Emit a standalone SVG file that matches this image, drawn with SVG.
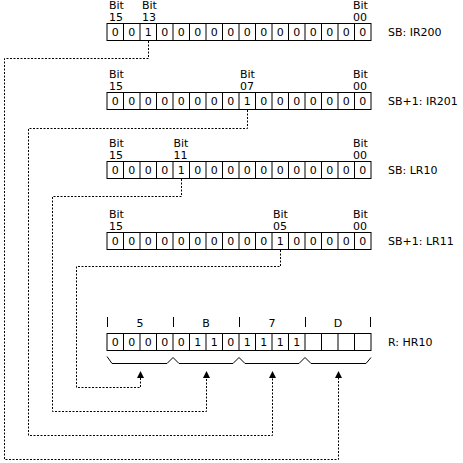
<svg xmlns="http://www.w3.org/2000/svg" width="463" height="463" viewBox="0 0 463 463">
<defs>
<style>
text{font-family:"DejaVu Sans","Liberation Sans",sans-serif;font-size:11px;fill:#000}
.c{text-anchor:middle}
.box{fill:#fff;stroke:#000;stroke-width:1}
.div{fill:none;stroke:#000;stroke-width:1}
.conn{fill:none;stroke:#000;stroke-width:1;stroke-dasharray:2 1.5}
.line{fill:none;stroke:#000;stroke-width:1}
</style>
<marker id="arr" markerUnits="userSpaceOnUse" markerWidth="8" markerHeight="8" refX="0" refY="3.5" orient="auto">
<path d="M0,0 L7,3.5 L0,7 z" fill="#000"/>
</marker>
<path id="dividers" d="M123.5 0v17M140 0v17M156.5 0v17M173 0v17M189.5 0v17M206 0v17M222.5 0v17M239 0v17M255.5 0v17M272 0v17M288.5 0v17M305 0v17M321.5 0v17M338 0v17M354.5 0v17"/>
</defs>
<rect width="463" height="463" fill="#fff"/>

<g id="reg-ir200">
<rect class="box" x="107" y="23.5" width="264" height="17"/>
<use href="#dividers" class="div" y="23.5"/>
<text class="c" x="115.25 131.75 148.25 164.75 181.25 197.75 214.25 230.75 247.25 263.75 280.25 296.75 313.25 329.75 346.25 362.75" y="36">0010000000000000</text>
<text x="109" y="9">Bit</text><text x="109" y="20.5">15</text>
<text x="142" y="9">Bit</text><text x="142" y="20.5">13</text>
<text x="353" y="9">Bit</text><text x="353" y="20.5">00</text>
<text x="388" y="36">SB: IR200</text>
</g>

<g id="reg-ir201">
<rect class="box" x="107" y="92.5" width="264" height="17"/>
<use href="#dividers" class="div" y="92.5"/>
<text class="c" x="115.25 131.75 148.25 164.75 181.25 197.75 214.25 230.75 247.25 263.75 280.25 296.75 313.25 329.75 346.25 362.75" y="105">0000000010000000</text>
<text x="109" y="78">Bit</text><text x="109" y="89.5">15</text>
<text x="240" y="78">Bit</text><text x="240" y="89.5">07</text>
<text x="353" y="78">Bit</text><text x="353" y="89.5">00</text>
<text x="388" y="105">SB+1: IR201</text>
</g>

<g id="reg-lr10">
<rect class="box" x="107" y="161.5" width="264" height="17"/>
<use href="#dividers" class="div" y="161.5"/>
<text class="c" x="115.25 131.75 148.25 164.75 181.25 197.75 214.25 230.75 247.25 263.75 280.25 296.75 313.25 329.75 346.25 362.75" y="174">0000100000000000</text>
<text x="109" y="147">Bit</text><text x="109" y="158.5">15</text>
<text x="173.5" y="147">Bit</text><text x="173.5" y="158.5">11</text>
<text x="353" y="147">Bit</text><text x="353" y="158.5">00</text>
<text x="388" y="174">SB: LR10</text>
</g>

<g id="reg-lr11">
<rect class="box" x="107" y="232.5" width="264" height="17"/>
<use href="#dividers" class="div" y="232.5"/>
<text class="c" x="115.25 131.75 148.25 164.75 181.25 197.75 214.25 230.75 247.25 263.75 280.25 296.75 313.25 329.75 346.25 362.75" y="245">0000000000100000</text>
<text x="109" y="218">Bit</text><text x="109" y="229.5">15</text>
<text x="273" y="218">Bit</text><text x="273" y="229.5">05</text>
<text x="353" y="218">Bit</text><text x="353" y="229.5">00</text>
<text x="388" y="245">SB+1: LR11</text>
</g>

<g id="reg-hr10">
<path class="line" d="M107.5 317v10M173.5 317v10M239.5 317v10M305.5 317v10M370.5 317v10"/>
<text class="c" x="140" y="327">5</text>
<text class="c" x="206" y="327">B</text>
<text class="c" x="272" y="327">7</text>
<text class="c" x="338" y="327">D</text>
<rect class="box" x="107" y="333.5" width="264" height="17"/>
<use href="#dividers" class="div" y="333.5"/>
<text class="c" x="115.25 131.75 148.25 164.75 181.25 197.75 214.25 230.75 247.25 263.75 280.25 296.75" y="346">000001101111</text>
<polyline class="line" points="107,356.5 112,363.5 167,363.5 173,357.5 179,363.5 233,363.5 239,357.5 245,363.5 299,363.5 305,357.5 311,363.5 366,363.5 371,357.5"/>
<text x="388" y="346">R: HR10</text>
</g>

<g id="connectors">
<path class="conn" d="M148.5 41V58.5H4.5V459.5H338.5V378" marker-end="url(#arr)"/>
<path class="conn" d="M247.5 110V128.5H28.5V435.5H272.5V378" marker-end="url(#arr)"/>
<path class="conn" d="M181.5 179V196.5H52.5V411.5H206.5V378" marker-end="url(#arr)"/>
<path class="conn" d="M280.5 250V266.5H76.5V387.5H140.5V378" marker-end="url(#arr)"/>
</g>
</svg>
